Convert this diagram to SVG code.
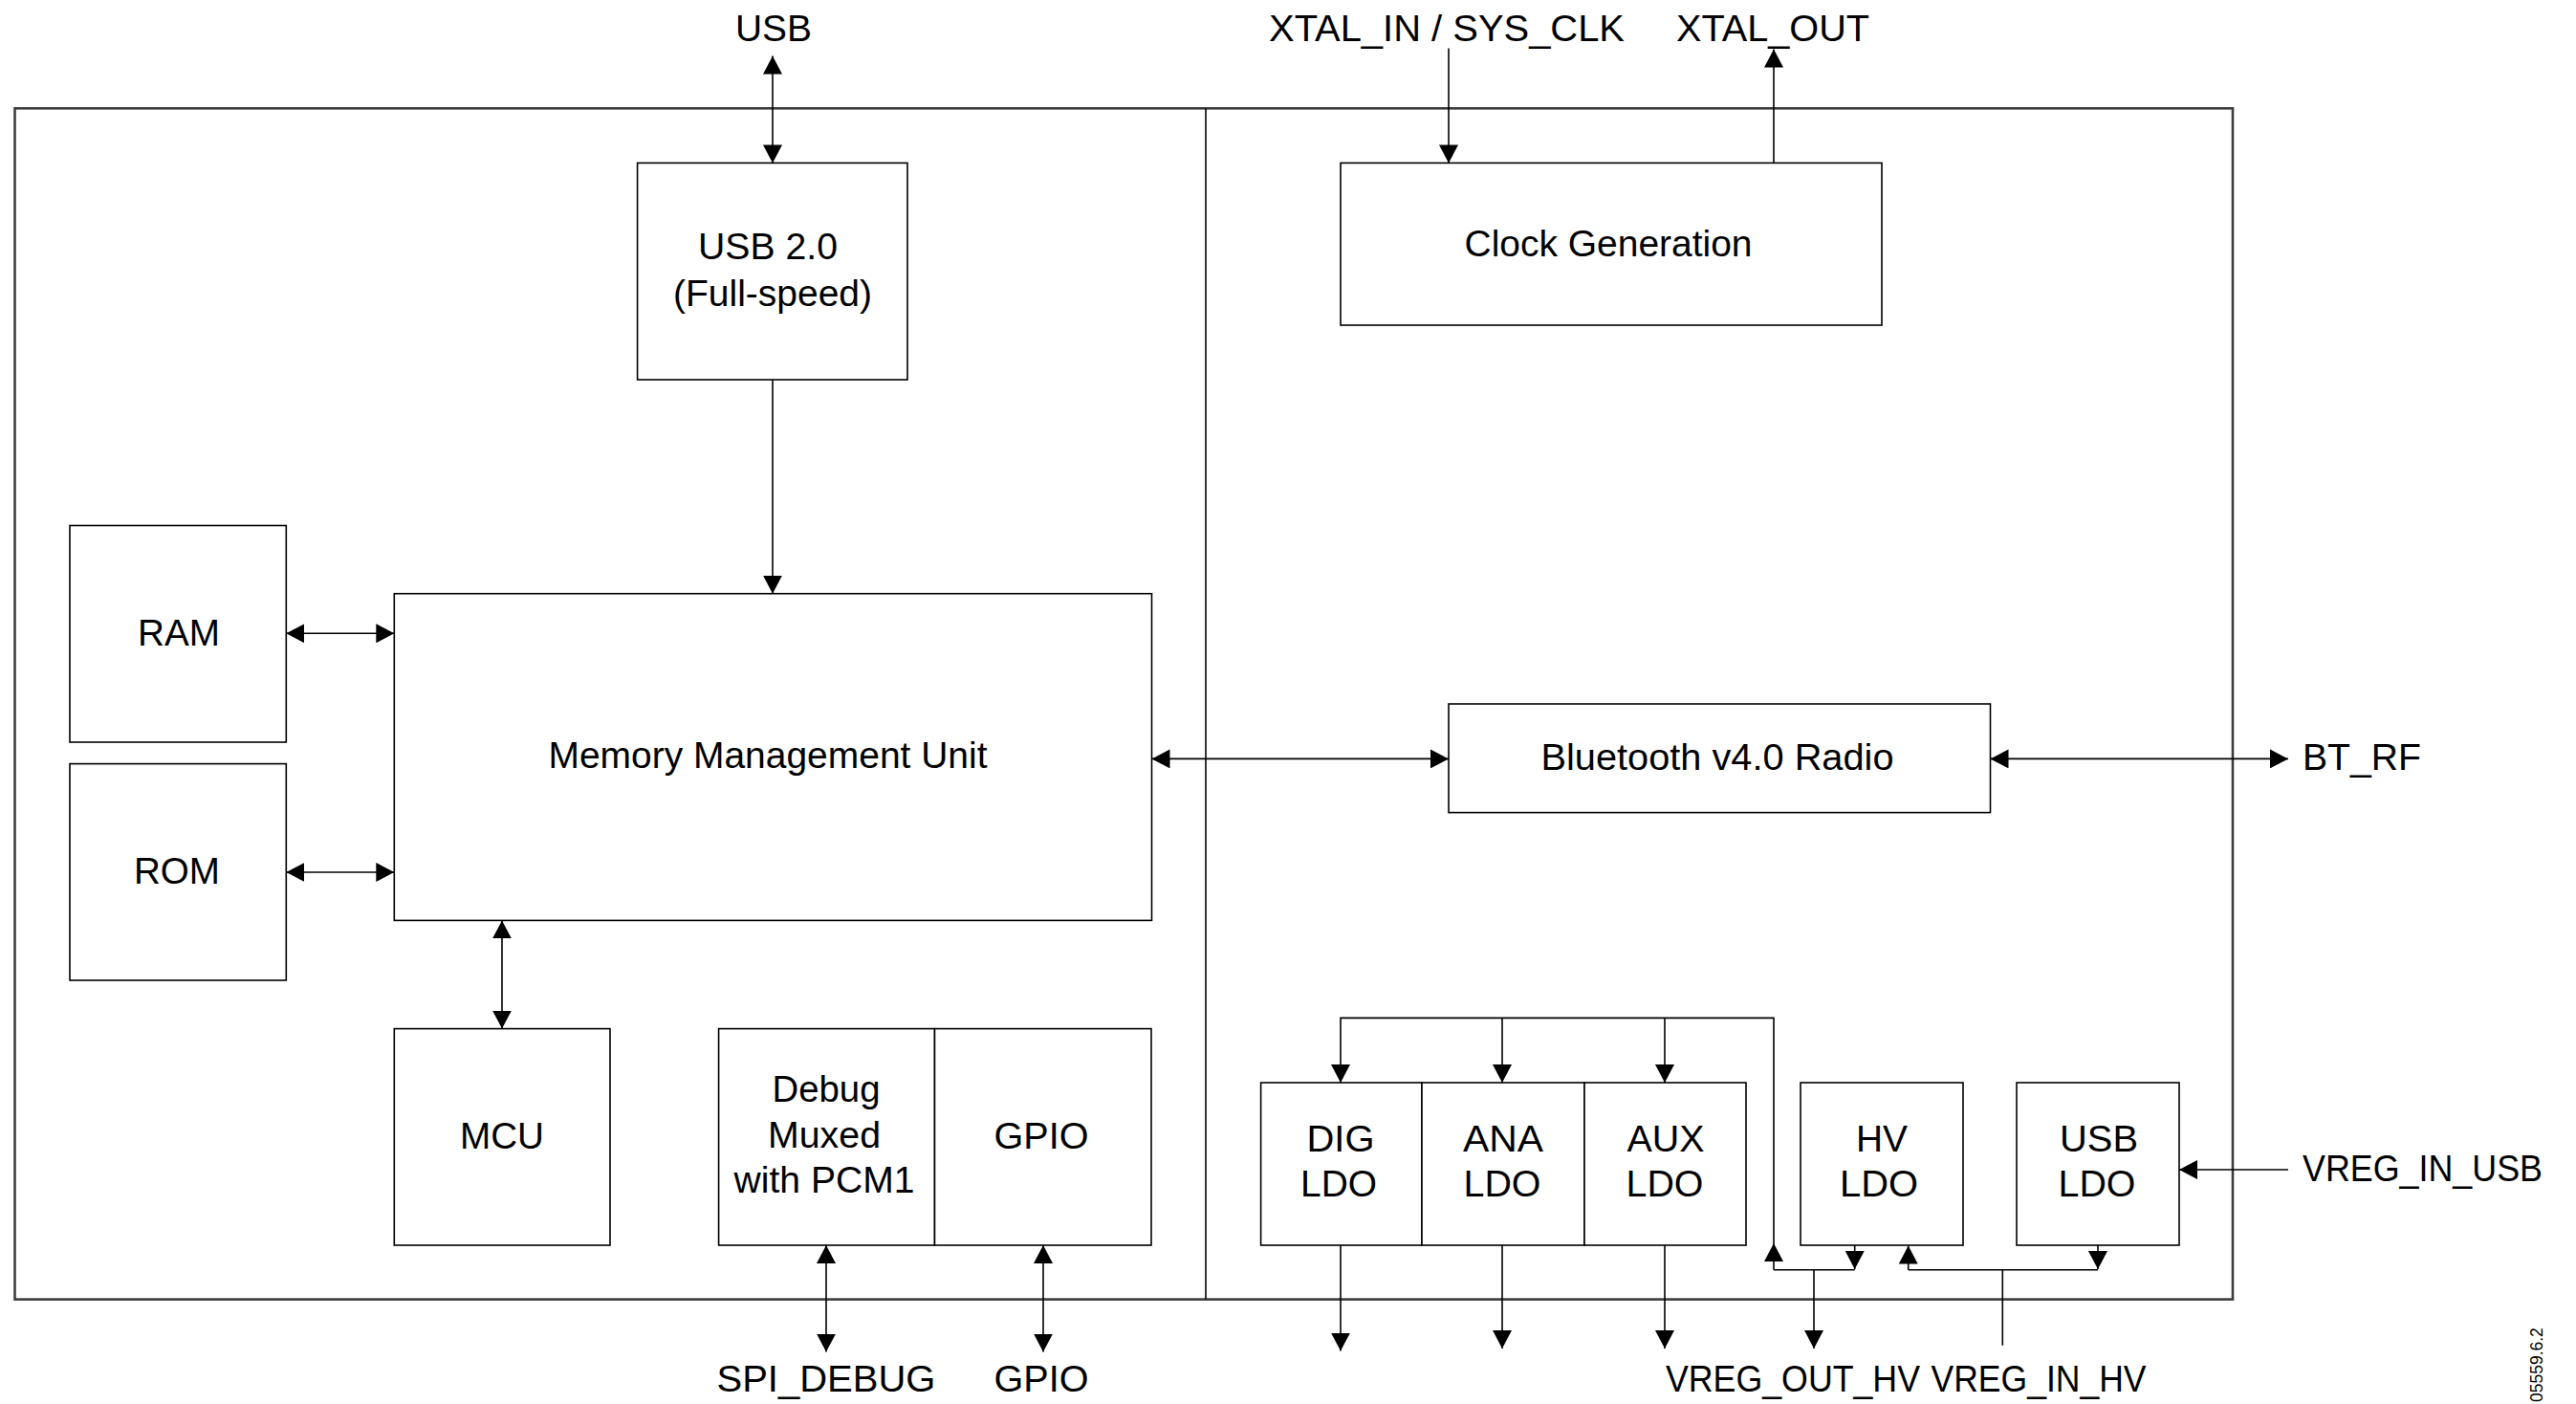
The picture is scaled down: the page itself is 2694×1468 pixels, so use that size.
<svg xmlns="http://www.w3.org/2000/svg" width="2694" height="1468" viewBox="0 0 2694 1468">
<style>
.box{fill:#fff;stroke:#000;stroke-width:1.6}
.frame{fill:none;stroke:#3c3c3c;stroke-width:2.6}
.div{stroke:#000;stroke-width:1.6}
.c{fill:none;stroke:#000;stroke-width:1.6}
.a{marker-end:url(#ah)}
.b{marker-start:url(#ah);marker-end:url(#ah)}
text{font-family:"Liberation Sans",Arial,sans-serif;font-size:38px;fill:#000}
.m{text-anchor:middle}
.s{font-size:17.5px}
</style>
<defs>
<marker id="ah" markerUnits="userSpaceOnUse" markerWidth="20" markerHeight="20" refX="19" refY="10" orient="auto-start-reverse">
<path d="M0,0 L19,10 L0,20 z" fill="#000"/>
</marker>
</defs>
<rect id="bg" x="0" y="0" width="2694" height="1468" fill="#fff"/>
<g id="frame">
<rect class="frame" x="15.5" y="113.3" width="2319.5" height="1245.3"/>
<line class="div" x1="1261" y1="113.3" x2="1261" y2="1358.6"/>
</g>
<g id="usb20"><rect class="box" x="666.6" y="170.4" width="282.4" height="226.6"/><text class="m" x="803" y="271" textLength="146" lengthAdjust="spacingAndGlyphs">USB 2.0</text><text class="m" x="808" y="320" textLength="208" lengthAdjust="spacingAndGlyphs">(Full-speed)</text></g>
<g id="clock"><rect class="box" x="1402" y="170.4" width="566" height="169.6"/><text class="m" x="1682" y="268" textLength="301" lengthAdjust="spacingAndGlyphs">Clock Generation</text></g>
<g id="ram"><rect class="box" x="73" y="549.5" width="226.3" height="226.5"/><text class="m" x="187" y="675" textLength="86" lengthAdjust="spacingAndGlyphs">RAM</text></g>
<g id="rom"><rect class="box" x="73" y="798.6" width="226.3" height="226.4"/><text class="m" x="185" y="924" textLength="90" lengthAdjust="spacingAndGlyphs">ROM</text></g>
<g id="mmu"><rect class="box" x="412.3" y="620.7" width="792.2" height="341.7"/><text class="m" x="803" y="803" textLength="459" lengthAdjust="spacingAndGlyphs">Memory Management Unit</text></g>
<g id="mcu"><rect class="box" x="412.3" y="1075.6" width="225.7" height="226.4"/><text class="m" x="525" y="1201" textLength="88" lengthAdjust="spacingAndGlyphs">MCU</text></g>
<g id="debug"><rect class="box" x="751.6" y="1075.6" width="225.9" height="226.4"/><text class="m" x="864" y="1152" textLength="113" lengthAdjust="spacingAndGlyphs">Debug</text><text class="m" x="862" y="1200" textLength="118" lengthAdjust="spacingAndGlyphs">Muxed</text><text class="m" x="862" y="1247" textLength="189" lengthAdjust="spacingAndGlyphs">with PCM1</text></g>
<g id="gpio"><rect class="box" x="977.5" y="1075.6" width="226.5" height="226.4"/><text class="m" x="1089" y="1201" textLength="99" lengthAdjust="spacingAndGlyphs">GPIO</text></g>
<g id="bluetooth"><rect class="box" x="1515" y="736" width="566.5" height="113.6"/><text class="m" x="1796" y="805" textLength="369" lengthAdjust="spacingAndGlyphs">Bluetooth v4.0 Radio</text></g>
<g id="digldo"><rect class="box" x="1318.6" y="1132" width="168.4" height="170"/><text class="m" x="1402" y="1204" textLength="71" lengthAdjust="spacingAndGlyphs">DIG</text><text class="m" x="1400" y="1251" textLength="80" lengthAdjust="spacingAndGlyphs">LDO</text></g>
<g id="analdo"><rect class="box" x="1487" y="1132" width="170" height="170"/><text class="m" x="1572" y="1204" textLength="84" lengthAdjust="spacingAndGlyphs">ANA</text><text class="m" x="1571" y="1251" textLength="81" lengthAdjust="spacingAndGlyphs">LDO</text></g>
<g id="auxldo"><rect class="box" x="1657" y="1132" width="169" height="170"/><text class="m" x="1742" y="1204" textLength="81" lengthAdjust="spacingAndGlyphs">AUX</text><text class="m" x="1741" y="1251" textLength="81" lengthAdjust="spacingAndGlyphs">LDO</text></g>
<g id="hvldo"><rect class="box" x="1883" y="1132" width="170" height="170"/><text class="m" x="1968" y="1204" textLength="54" lengthAdjust="spacingAndGlyphs">HV</text><text class="m" x="1965" y="1251" textLength="82" lengthAdjust="spacingAndGlyphs">LDO</text></g>
<g id="usbldo"><rect class="box" x="2109" y="1132" width="170" height="170"/><text class="m" x="2195" y="1204" textLength="82" lengthAdjust="spacingAndGlyphs">USB</text><text class="m" x="2193" y="1251" textLength="81" lengthAdjust="spacingAndGlyphs">LDO</text></g>
<g id="connectors">
<line class="c b" x1="808" y1="58.5" x2="808" y2="170.4"/>
<line class="c a" x1="808" y1="397" x2="808" y2="620.7"/>
<line class="c a" x1="1515" y1="50.5" x2="1515" y2="170.4"/>
<line class="c a" x1="1855" y1="170.4" x2="1855" y2="51.5"/>
<line class="c b" x1="299.3" y1="662.3" x2="412.3" y2="662.3"/>
<line class="c b" x1="299.3" y1="912" x2="412.3" y2="912"/>
<line class="c b" x1="1204.5" y1="793.4" x2="1515" y2="793.4"/>
<line class="c b" x1="2081.5" y1="793.4" x2="2393" y2="793.4"/>
<line class="c b" x1="525" y1="962.4" x2="525" y2="1075.6"/>
<line class="c b" x1="864" y1="1302" x2="864" y2="1413.6"/>
<line class="c b" x1="1091" y1="1302" x2="1091" y2="1413.6"/>
<path class="c a" d="M1855,1300 V1064.4 H1402 V1132"/>
<line class="c a" x1="1571" y1="1064.4" x2="1571" y2="1132"/>
<line class="c a" x1="1741" y1="1064.4" x2="1741" y2="1132"/>
<line class="c a" x1="1855" y1="1327.7" x2="1855" y2="1300"/>
<line class="c" x1="1855" y1="1327.7" x2="1939.7" y2="1327.7"/>
<line class="c a" x1="1939.7" y1="1302" x2="1939.7" y2="1327"/>
<line class="c a" x1="1897" y1="1327.7" x2="1897" y2="1410"/>
<line class="c" x1="2094.3" y1="1406.7" x2="2094.3" y2="1327.7"/>
<line class="c" x1="1995.7" y1="1327.7" x2="2194" y2="1327.7"/>
<line class="c a" x1="1995.7" y1="1327.7" x2="1995.7" y2="1302.5"/>
<line class="c a" x1="2194" y1="1302" x2="2194" y2="1327"/>
<line class="c a" x1="1402" y1="1302" x2="1402" y2="1412.6"/>
<line class="c a" x1="1571" y1="1302" x2="1571" y2="1410"/>
<line class="c a" x1="1741" y1="1302" x2="1741" y2="1410"/>
<line class="c a" x1="2393" y1="1223" x2="2279" y2="1223"/>
</g>
<g id="labels">
<text class="m" x="809" y="43" textLength="80" lengthAdjust="spacingAndGlyphs">USB</text>
<text class="m" x="1513" y="43" textLength="372" lengthAdjust="spacingAndGlyphs">XTAL_IN / SYS_CLK</text>
<text class="m" x="1854" y="43" textLength="202" lengthAdjust="spacingAndGlyphs">XTAL_OUT</text>
<text x="2408" y="805" textLength="124" lengthAdjust="spacingAndGlyphs">BT_RF</text>
<text x="2408" y="1235" textLength="251" lengthAdjust="spacingAndGlyphs">VREG_IN_USB</text>
<text class="m" x="864" y="1455" textLength="229" lengthAdjust="spacingAndGlyphs">SPI_DEBUG</text>
<text class="m" x="1089" y="1455" textLength="99" lengthAdjust="spacingAndGlyphs">GPIO</text>
<text class="m" x="1875" y="1455" textLength="266" lengthAdjust="spacingAndGlyphs">VREG_OUT_HV</text>
<text class="m" x="2132" y="1455" textLength="225" lengthAdjust="spacingAndGlyphs">VREG_IN_HV</text>
<text class="s" transform="translate(2659,1466) rotate(-90)">05559.6.2</text>
</g>
</svg>
